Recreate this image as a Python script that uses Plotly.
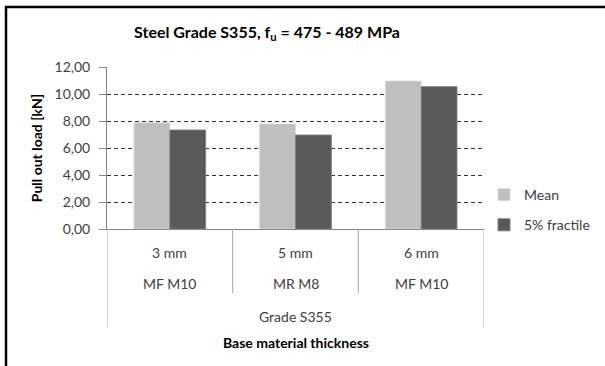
import plotly.graph_objects as go

thickness = ["3 mm", "5 mm", "6 mm"]
fastener = ["MF M10", "MR M8", "MF M10"]
grade = "Grade S355"
mean_load = [7.87, 7.78, 10.96]
fractile_load = [7.33, 6.96, 10.54]

W, H = 605, 366
L, R, T, B = 107, 121, 67, 137
PW, PH = W - L - R, H - T - B
FONT = "Lato"
TXT = "#404040"
AXIS = "#868686"


def px(p):
    # pixel x -> paper
    return (p - L) / PW


def py(p):
    # pixel y -> paper
    return (H - B - p) / PH


fig = go.Figure()
fig.add_trace(go.Bar(
    x=thickness, y=mean_load, name="Mean", legendgroup="a",
    marker=dict(color="#BFBFBF", line=dict(color="#D9D9D9", width=1)),
))
fig.add_trace(go.Bar(
    x=thickness, y=fractile_load, name="5% fractile", legendgroup="b",
    marker=dict(color="#595959", line=dict(color="#7F7F7F", width=1)),
))

annotations = []
for t, f in zip(thickness, fastener):
    annotations.append(dict(x=t, xref="x", y=py(252), yref="paper", text=t,
                            showarrow=False, yanchor="middle", font=dict(size=14, color=TXT)))
    annotations.append(dict(x=t, xref="x", y=py(283), yref="paper", text=f,
                            showarrow=False, yanchor="middle", font=dict(size=14, color=TXT)))
annotations.append(dict(x=0.5, xref="paper", y=py(316), yref="paper", text=grade,
                        showarrow=False, yanchor="middle", font=dict(size=14, color=TXT)))
annotations.append(dict(x=0.5, xref="paper", y=py(342), yref="paper", text="<b>Base material thickness</b>",
                        showarrow=False, yanchor="middle", font=dict(size=14, color="black")))

shapes = []
# category dividers
for k in range(len(thickness) + 1):
    outer = k in (0, len(thickness))
    shapes.append(dict(type="line", xref="x", yref="paper", x0=k - 0.5, x1=k - 0.5,
                       y0=0, y1=py(327 if outer else 293),
                       line=dict(color="#A6A6A6", width=1)))
# chart frame
shapes.append(dict(type="path", xref="paper", yref="paper",
                   path=f"M {px(6)} {py(400)} L {px(6)} {py(7)} L {px(640)} {py(7)}",
                   line=dict(color="black", width=2.5)))

fig.update_layout(
    width=W, height=H,
    margin=dict(l=L, r=R, t=T, b=B, autoexpand=False),
    paper_bgcolor="white", plot_bgcolor="white",
    font=dict(family=FONT, size=14, color=TXT),
    separators=", ",
    barmode="group", bargap=0.43, bargroupgap=0,
    title=dict(text="<b>Steel Grade S355, f<sub>u</sub> = 475 - 489 MPa</b>",
               xref="container", x=267 / W, xanchor="center",
               yref="container", y=1 - 32 / H, yanchor="middle",
               font=dict(size=16, color="black")),
    xaxis=dict(range=[-0.5, 2.5], showline=True, linecolor=AXIS, linewidth=1,
               showticklabels=False, ticks="", showgrid=False, zeroline=False,
               automargin=False),
    yaxis=dict(range=[0, 12], dtick=2, tickformat=".2f", showline=True, linecolor=AXIS,
               linewidth=1, ticks="outside", ticklen=7, tickcolor=AXIS,
               ticklabelstandoff=6,
               showgrid=True, gridcolor="#333333", gridwidth=1, griddash="4px,3px",
               zeroline=False, automargin=False,
               title=dict(text="<b>Pull out load [kN]</b>", standoff=8,
                          font=dict(size=14, color="black"))),
    legend=dict(x=px(484), y=py(179), xanchor="left", yanchor="top",
                traceorder="grouped", tracegroupgap=9, itemwidth=30,
                font=dict(size=14, color=TXT), bgcolor="rgba(0,0,0,0)"),
    annotations=annotations,
    shapes=shapes,
)

fig.write_html("out.html", config={"displayModeBar": False},
               post_script="document.body.style.margin = '0';")
